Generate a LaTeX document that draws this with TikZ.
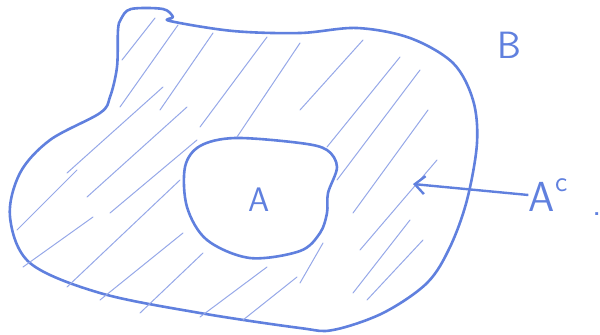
\documentclass[tikz,border=0pt]{standalone}
\usepackage{tikz}
\usetikzlibrary{arrows.meta,positioning}
\definecolor{pen}{RGB}{96,128,222}
\definecolor{hatchpen}{RGB}{150,168,232}
\tikzset{
  rim/.style={pen,line width=1.3pt,line join=round},
  hatch/.style={hatchpen,line width=0.5pt,line cap=round},
  lbl/.style={pen,font=\sffamily\fontsize{17}{17}\selectfont,inner sep=0pt}
}
\begin{document}
\begin{tikzpicture}[x=0.5pt,y=-0.5pt,>={Straight Barb[length=5pt,width=9pt]}]
  \useasboundingbox (0,0) rectangle (600,334);
  \draw[rim] plot[smooth cycle,tension=0.55] coordinates {(121,19) (131,9) (163,9) (173,17) (170,21) (233,31) (300,33) (357,28) (410,38) (453,63) (473,100) (477,143) (467,200) (450,247) (427,283) (383,313) (333,330) (300,328) (200,313) (100,293) (30,263) (10,217) (20,173) (50,140) (100,113) (110,97) (117,67) (118,30)};
  \draw[rim] plot[smooth cycle,tension=0.55] coordinates {(235,138) (200,146) (185,167) (187,207) (207,240) (250,258) (300,251) (320,233) (327,213) (328,193) (337,167) (327,150) (300,143)};
  \foreach \a/\b/\c/\d in {155/18/122/60,178/25/120/107,213/33/160/110,267/37/200/127,300/43/237/137,
    163/87/67/173,187/107/87/197,197/140/110/213,77/170/17/230,93/217/23/267,180/180/67/287,
    183/233/100/300,203/253/140/313,267/267/200/317,297/277/243/320,363/40/300/110,400/57/327/147,
    420/70/337/180,428/110/353/213,437/160/360/250,410/220/353/293,423/240/367/300,323/243/300/283}
    \draw[hatch] (\a,\b) -- (\c,\d);
  \node[lbl] (a) at (259,200) {A};
  \node[lbl,font=\sffamily\fontsize{19}{19}\selectfont] (b) at (509,45) {B};
  \node[lbl,font=\sffamily\fontsize{21}{21}\selectfont] (ac) at (548,195) {A\raisebox{1.1ex}{\fontsize{14}{14}\selectfont c}};
  \node[pen,inner sep=0pt,font=\sffamily\fontsize{18}{18}\selectfont] (dot) at (597,214) {.};
  \coordinate (tip) at (413,184);
  \draw[pen,line width=1.2pt,->] (ac.west) -- (tip);
\end{tikzpicture}
\end{document}
